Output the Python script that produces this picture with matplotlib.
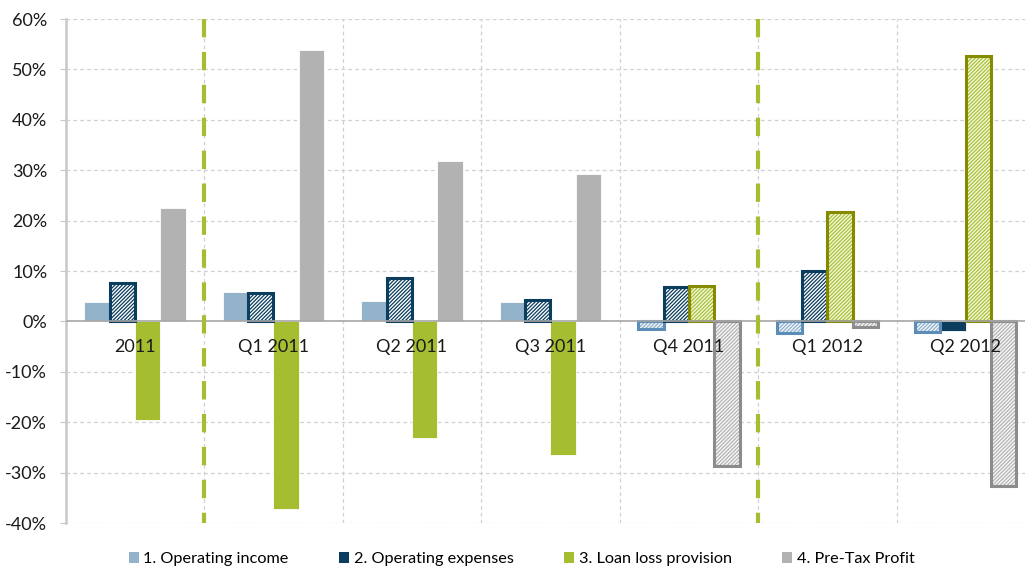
import matplotlib
matplotlib.use('Agg')
import matplotlib.pyplot as plt
from matplotlib.patches import Patch
from matplotlib.ticker import FuncFormatter
import numpy as np

# categories and series (% change)
periods = ['2011', 'Q1 2011', 'Q2 2011', 'Q3 2011', 'Q4 2011', 'Q1 2012', 'Q2 2012']
operating_income = [3.8, 5.8, 4.0, 3.8, -1.6, -2.2, -2.1]
operating_expenses = [7.6, 5.7, 8.7, 4.3, 6.9, 10.1, -2.0]
loan_loss_provision = [-19.5, -37.3, -23.2, -26.5, 7.0, 21.8, 52.6]
pretax_profit = [22.5, 53.8, 31.9, 29.3, -28.7, -1.2, -32.7]
series_names = ['1. Operating income', '2. Operating expenses',
                '3. Loan loss provision', '4. Pre-Tax Profit']
separators = [0.5, 4.5]  # green dashed dividers between period groups

# styling: solid colour, hatch fill, hatch lines, outline, which bars are hatched
styles = [
    dict(color='#93b3cb', fill='#f2f6fa', hatch_col='#8fb0cc', edge='#5b8db8',
         hatched=[False, False, False, False, True, True, True]),
    dict(color='#0b3d5e', fill='#ffffff', hatch_col='#0b3d5e', edge='#0b3d5e',
         hatched=[True, True, True, True, True, True, False]),
    dict(color='#a4bd31', fill='#f4f8dc', hatch_col='#a9c13a', edge='#858a00',
         hatched=[False, False, False, False, True, True, True]),
    dict(color='#b2b2b2', fill='#f8f8f8', hatch_col='#b4b4b4', edge='#8c8c8c',
         hatched=[False, False, False, False, True, True, True]),
]

plt.rcParams['font.family'] = ['Lato', 'DejaVu Sans']
plt.rcParams['hatch.linewidth'] = 0.9

fig = plt.figure(figsize=(10.25, 5.69), dpi=100)
ax = fig.add_axes([0.0641, 0.0808, 0.9457, 0.8858])

x = np.arange(len(periods))
w = 0.183
values = [operating_income, operating_expenses, loan_loss_provision, pretax_profit]

for k, (vals, st) in enumerate(zip(values, styles)):
    pos = x + (k - 1.5) * w
    vals = np.array(vals)
    hat = np.array(st['hatched'])
    # solid bars
    ax.bar(pos[~hat], vals[~hat], w, color=st['color'], edgecolor='white',
           linewidth=0.6, zorder=3)
    # hatched bars: fill + hatch lines, then outline
    ax.bar(pos[hat], vals[hat], w, color=st['fill'], edgecolor=st['hatch_col'],
           hatch='/' * 9, linewidth=0, zorder=3)
    ax.bar(pos[hat], vals[hat], w, fill=False, edgecolor=st['edge'],
           linewidth=2.2, zorder=4)

# grid
ax.set_xlim(-0.5, 6.5)
ax.set_ylim(-40, 60)
ax.set_yticks(np.arange(-40, 61, 10))
ax.yaxis.set_major_formatter(FuncFormatter(lambda v, p: '%d%%' % v))
for yv in np.arange(-40, 61, 10):
    if yv != 0:
        ax.axhline(yv, color='#d0d0d0', lw=0.9, ls=(0, (3, 2.5)), zorder=1)
for xv in np.arange(0.5, 7.5, 1):
    ax.axvline(xv, color='#d0d0d0', lw=0.9, ls=(0, (3, 2.5)), zorder=1)
ax.axhline(0, color='#a6a6a6', lw=1.2, zorder=5)
for xv in separators:
    ax.plot([xv, xv], [60, -40], color='#a4bd31', lw=3.0,
            dashes=(4.4, 3.5), zorder=6, clip_on=False)

for s in ['top', 'right', 'bottom']:
    ax.spines[s].set_visible(False)
ax.spines['left'].set_color('#c8c8c8')
ax.spines['left'].set_linewidth(1.8)
ax.tick_params(axis='y', length=4.3, color='#c8c8c8', pad=9,
               labelsize=13, labelcolor='#1a1a1a')
ax.set_xticks([])

# category labels next to the zero line
for i, name in enumerate(periods):
    ax.text(i, -3.4, name, ha='center', va='top', fontsize=13, color='#1a1a1a',
            zorder=7)

handles = [Patch(facecolor=st['color'], edgecolor='none') for st in styles]
fig.legend(handles, series_names, loc='center', bbox_to_anchor=(0.509, 0.017),
           ncol=4, frameon=False, fontsize=11.7, handlelength=0.6,
           handleheight=0.6, handletextpad=0.3, columnspacing=3.1)

fig.savefig('out.png', dpi=100)
